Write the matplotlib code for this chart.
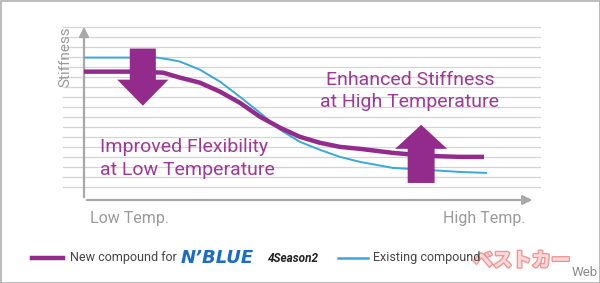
import matplotlib
matplotlib.use("Agg")
import matplotlib.pyplot as plt
from matplotlib.patches import FancyArrow, Rectangle
from matplotlib.lines import Line2D
import matplotlib.patheffects as pe

# temperature position (0 = low, 100 = high) and relative stiffness
new_temp = [0, 10, 17.6, 21.4, 25.8, 30.3, 34.7, 39.2, 43.7, 48.1, 52.6, 57.0, 61.5, 68.8, 76.4, 83.7, 89.1]
new_stiff = [12.5, 12.5, 12.4, 11.9, 11.4, 10.5, 9.4, 8.0, 6.9, 6.0, 5.4, 5.0, 4.8, 4.4, 4.1, 4.0, 4.0]

old_temp = [0, 10, 16.3, 19.2, 21.4, 25.8, 30.3, 34.7, 39.2, 43.7, 48.1, 52.6, 57.0, 61.5, 68.8, 76.4, 83.7, 89.8]
old_stiff = [13.9, 13.9, 13.9, 13.7, 13.5, 12.7, 11.5, 10.0, 8.4, 6.7, 5.5, 4.7, 4.0, 3.5, 2.9, 2.7, 2.5, 2.4]

grid_levels = list(range(1, 18))

purple = "#922b8c"
text_purple = "#9c3a96"
blue = "#3aa8dc"
gray = "#9a9a9a"

plt.rcParams["font.family"] = ["Roboto", "DejaVu Sans"]

fig = plt.figure(figsize=(6, 2.83), dpi=100)
fig.patch.set_facecolor("white")

# overlay in pixel units for border, legend and watermark
lay = fig.add_axes([0, 0, 1, 1])
lay.set_xlim(0, 600)
lay.set_ylim(283, 0)
lay.axis("off")
lay.add_patch(Rectangle((0.5, 0.5), 599, 282, fill=False, edgecolor="#b0b0b0", lw=1.2))

ax = fig.add_axes([63 / 600, (283 - 200.5) / 283, 478 / 600, (200.5 - 24) / 283])
ax.set_xlim(-4.68, 101.8)
ax.set_ylim(-0.35, 17.25)
ax.axis("off")

for k in grid_levels:
    ax.axhline(k, color="#d4d4d4", lw=0.9, zorder=1)

ax.annotate("", xy=(0, 17.25), xytext=(0, -0.3),
            arrowprops=dict(arrowstyle="-|>", color="#a8a8a8", lw=1.6, mutation_scale=14), zorder=2)
ax.annotate("", xy=(100.5, -0.3), xytext=(0, -0.3),
            arrowprops=dict(arrowstyle="-|>", color="#a8a8a8", lw=1.6, mutation_scale=14), zorder=2)

ax.plot(old_temp, old_stiff, color=blue, lw=1.4, zorder=3, solid_capstyle="butt", solid_joinstyle="round")
ax.plot(new_temp, new_stiff, color=purple, lw=3.2, zorder=4, solid_capstyle="butt", solid_joinstyle="round")

ax.add_patch(FancyArrow(13.1, 14.8, 0, -5.7, width=5.8, head_width=11.4, head_length=2.6,
                        length_includes_head=True, color=purple, lw=0, zorder=5))
ax.add_patch(FancyArrow(75.1, 1.4, 0, 5.8, width=6.0, head_width=11.6, head_length=2.4,
                        length_includes_head=True, color=purple, lw=0, zorder=5))

ax.text(3.6, 5.0, "Improved Flexibility", color=text_purple, fontsize=14, ha="left", va="center", zorder=6)
ax.text(3.6, 2.7, "at Low Temperature", color=text_purple, fontsize=14, ha="left", va="center", zorder=6)
ax.text(72.6, 11.7, "Enhanced Stiffness", color=text_purple, fontsize=14, ha="center", va="center", zorder=6)
ax.text(72.6, 9.5, "at High Temperature", color=text_purple, fontsize=14, ha="center", va="center", zorder=6)

ax.text(-4.2, 14.0, "Stiffness", color=gray, fontsize=11, rotation=90, ha="center", va="center", clip_on=False)
ax.text(1.3, -2.1, "Low Temp.", color=gray, fontsize=11.5, ha="left", va="center", clip_on=False)
ax.text(98.4, -2.1, "High Temp.", color=gray, fontsize=11.5, ha="right", va="center", clip_on=False)

# watermark (under the legend text)
lay.text(522, 261, "ベストカー", family=["Noto Sans CJK JP", "DejaVu Sans"], fontsize=14,
         fontweight="black", color="#fde0e0", alpha=0.85, ha="center", va="center", zorder=1,
         path_effects=[pe.withStroke(linewidth=1.8, foreground="#ef7f7f")])
lay.text(598, 272, "Web", color="#8a8a8a", fontsize=9.5, ha="right", va="center", zorder=1)

# legend row
lay.add_line(Line2D([32, 63], [258, 258], color=purple, lw=3.2, zorder=2))
lay.text(70, 258, "New compound for", color="#444444", fontsize=9, ha="left", va="center", zorder=2)
lay.text(181, 258, "N\u2019BLUE", family="DejaVu Sans", color="#1a6cc4", fontsize=13, fontweight="bold",
         style="oblique", ha="left", va="center", zorder=2)
lay.text(268, 259, "4Season2", color="#222222", fontsize=8.5, fontweight="bold", style="italic",
         ha="left", va="center", zorder=2)
lay.add_line(Line2D([338, 368], [258, 258], color=blue, lw=1.8, zorder=2))
lay.text(373, 258, "Existing compound", color="#444444", fontsize=9, ha="left", va="center", zorder=2)

fig.savefig("out.png", dpi=100)
